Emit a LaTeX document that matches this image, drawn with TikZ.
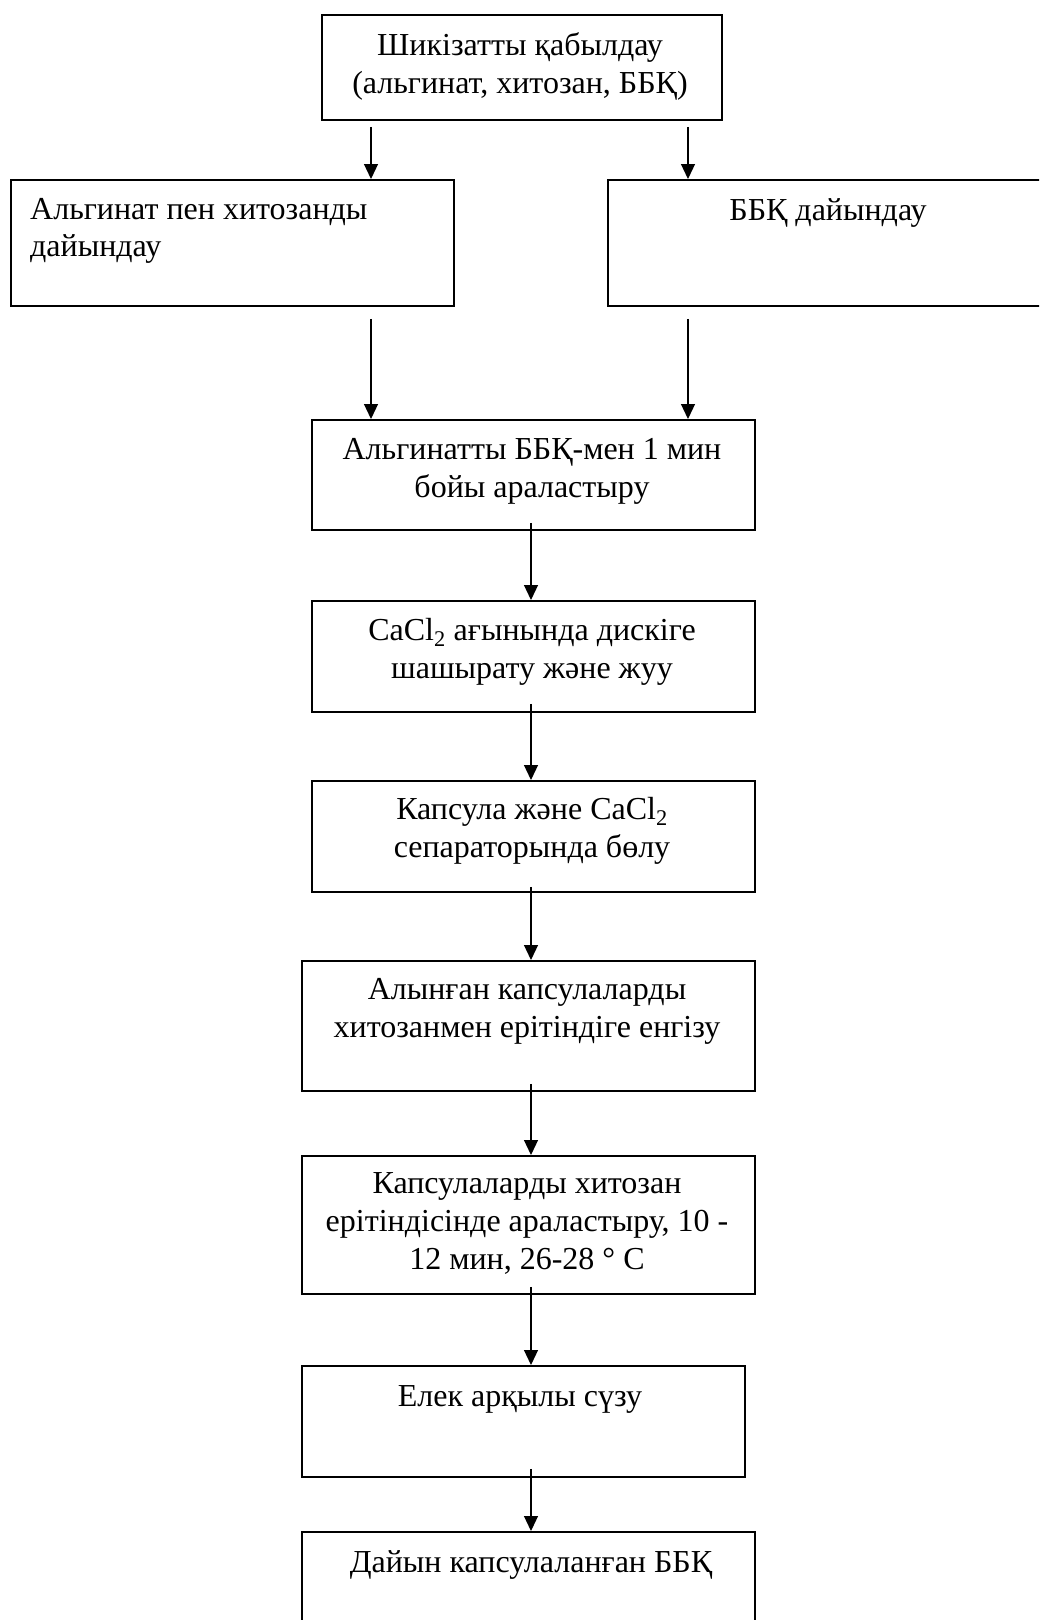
\documentclass[tikz,border=0pt]{standalone}
\usepackage{fontspec}
\setmainfont{Liberation Serif}
\usetikzlibrary{arrows.meta}
\begin{document}
\begin{tikzpicture}[x=1pt,y=-1pt,
  box/.style={draw, line width=1.8pt, inner sep=0pt, anchor=north west},
  txt/.style={inner sep=0pt, anchor=north, align=center, font=\fontsize{32pt}{38pt}\selectfont},
  txtl/.style={inner sep=0pt, anchor=north west, align=left, font=\fontsize{32pt}{37pt}\selectfont},
  arr/.style={line width=1.2pt, -{Triangle[width=14pt,length=15pt]}}]
\useasboundingbox (0,0) rectangle (1039,1620);
\clip (0,0) rectangle (1039,1620);
\fill[white] (0,0) rectangle (1039,1620);
% boxes
\node[box, minimum width=400pt, minimum height=105pt] (top) at (321,14) {};
\node[box, minimum width=443pt, minimum height=126pt] (left) at (10,179) {};
\node[box, minimum width=438pt, minimum height=126pt] (right) at (607,179) {};
\node[box, minimum width=443pt, minimum height=110pt] (mix) at (311,419) {};
\node[box, minimum width=443pt, minimum height=111pt] (spray) at (311,600) {};
\node[box, minimum width=443pt, minimum height=111pt] (sep) at (311,780) {};
\node[box, minimum width=453pt, minimum height=130pt] (intro) at (301,960) {};
\node[box, minimum width=453pt, minimum height=138pt] (stir) at (301,1155) {};
\node[box, minimum width=443pt, minimum height=111pt] (filt) at (301,1365) {};
\node[box, minimum width=453pt, minimum height=120pt] (done) at (301,1531) {};
% texts (north = first baseline - 26.6)
\node[txt] (ttop) at (520,28.4) {\strut Шикізатты қабылдау\\(альгинат, хитозан, ББҚ)};
\node[txtl] (tleft) at (30,193.4) {\strut Альгинат пен хитозанды\\дайындау};
\node[txt] (tright) at (828,193.4) {\strut ББҚ дайындау};
\node[txt] (tmix) at (532,432.4) {\strut Альгинатты ББҚ-мен 1 мин\\бойы араластыру};
\node[txt] (tspray) at (532,613.4) {\strut CaCl\textsubscript{2} ағынында дискіге\\шашырату және жуу};
\node[txt] (tsep) at (532,792.4) {\strut Капсула және CaCl\textsubscript{2}\\сепараторында бөлу};
\node[txt] (tintro) at (527,972.4) {\strut Алынған капсулаларды\\хитозанмен ерітіндіге енгізу};
\node[txt] (tstir) at (527,1166.4) {\strut Капсулаларды хитозан\\ерітіндісінде араластыру, 10 -\\12 мин, 26-28 ° С};
\node[txt] (tfilt) at (520,1379.4) {\strut Елек арқылы сүзу};
\node[txt] (tdone) at (531,1545.4) {\strut Дайын капсулаланған ББҚ};
% connector columns
\coordinate (cL) at (371,0);
\coordinate (cR) at (688,0);
\coordinate (cM) at (531,0);
\draw[arr] ([yshift=-6pt]top.south -| cL) -- (left.north -| cL);
\draw[arr] ([yshift=-6pt]top.south -| cR) -- (right.north -| cR);
\draw[arr] ([yshift=-12pt]left.south -| cL) -- (mix.north -| cL);
\draw[arr] ([yshift=-12pt]right.south -| cR) -- (mix.north -| cR);
\draw[arr] ([yshift=8pt]mix.south -| cM) -- (spray.north -| cM);
\draw[arr] ([yshift=9pt]spray.south -| cM) -- (sep.north -| cM);
\draw[arr] ([yshift=6pt]sep.south -| cM) -- (intro.north -| cM);
\draw[arr] ([yshift=8pt]intro.south -| cM) -- (stir.north -| cM);
\draw[arr] ([yshift=8pt]stir.south -| cM) -- (filt.north -| cM);
\draw[arr] ([yshift=9pt]filt.south -| cM) -- (done.north -| cM);
\end{tikzpicture}
\end{document}
